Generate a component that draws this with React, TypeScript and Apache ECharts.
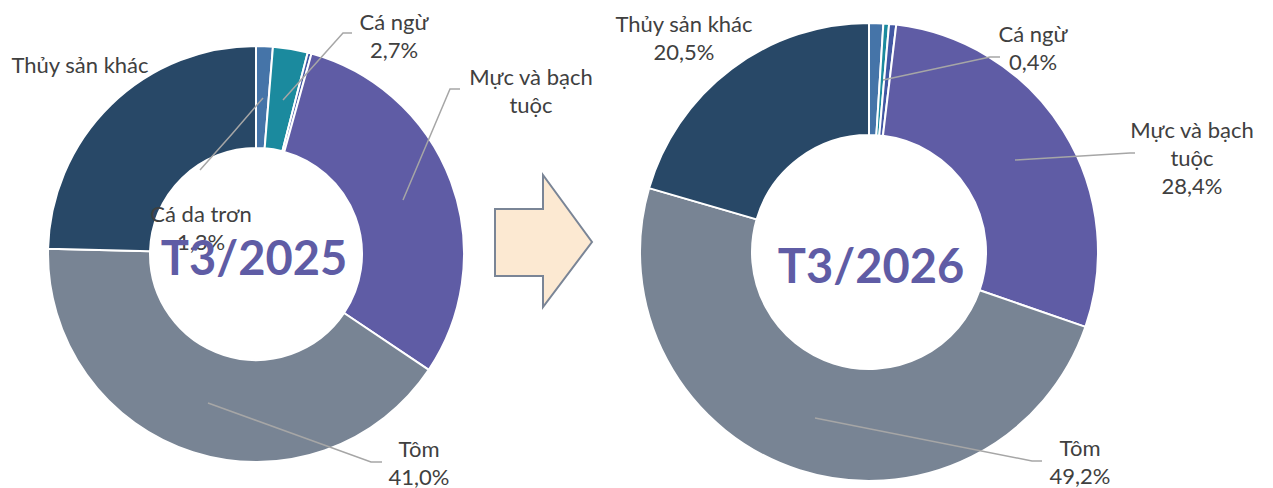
import React, { useEffect, useRef } from "react";
import * as echarts from "echarts";

// ---- data ----
const categories = ["Cá da trơn", "Cá ngừ", "Khác", "Mực và bạch tuộc", "Tôm", "Thủy sản khác"];
const labelNames = ["Cá da trơn", "Cá ngừ", "Khác", "Mực và bạch\ntuộc", "Tôm", "Thủy sản khác"];
const values2025 = [1.3, 2.7, 0.3, 30.1, 41.0, 24.6];
const values2026 = [1.0, 0.4, 0.5, 28.4, 49.2, 20.5];
const showPct2025 = [true, true, false, false, true, false];
const showPct2026 = [false, true, false, true, true, true];
const periods = ["T3/2025", "T3/2026"];

// ---- styles / layout ----
const colors = ["#4574a8", "#1b8a9e", "#4257a3", "#5f5ca5", "#788494", "#284867"];
const labelColor = "#404040";
const lineColor = "#a6a6a6";

type Lay = { x: number; y: number; line: number[][] | null } | null;
const layout2025: Lay[] = [
  { x: 201, y: 227, line: [[263, 98], [232, 134], [200, 170]] },
  { x: 394, y: 35, line: [[283, 100], [343, 33], [352, 33]] },
  null,
  { x: 531, y: 90, line: [[403, 200], [450, 89], [460, 89]] },
  { x: 419, y: 462, line: [[208, 403], [371, 462], [382, 462]] },
  { x: 80, y: 64, line: null },
];
const layout2026: Lay[] = [
  null,
  { x: 1033, y: 47, line: [[883, 80], [990, 57], [1000, 57]] },
  null,
  { x: 1192, y: 157, line: [[1015, 160], [1130, 153], [1135, 153]] },
  { x: 1080, y: 461, line: [[815, 418], [1032, 461], [1042, 461]] },
  { x: 684, y: 37, line: null },
];

const fmt = (v: number) => v.toFixed(1).replace(".", ",") + "%";

function ringSeries(values: number[], center: number[], radius: number[]) {
  return {
    type: "pie",
    center,
    radius,
    startAngle: 90,
    clockwise: true,
    z: 2,
    itemStyle: { borderColor: "#ffffff", borderWidth: 2 },
    label: { show: false },
    labelLine: { show: false },
    emphasis: { disabled: true },
    silent: true,
    data: values.map((v, i) => ({
      name: categories[i],
      value: v,
      itemStyle: { color: colors[i] },
    })),
  };
}

function labelSeries(values: number[], showPct: boolean[], lay: Lay[], center: number[], radius: number[]) {
  return {
    type: "pie",
    center,
    radius,
    startAngle: 90,
    clockwise: true,
    z: 5,
    silent: true,
    avoidLabelOverlap: false,
    itemStyle: { color: "rgba(0,0,0,0)", borderWidth: 0 },
    label: {
      show: true,
      position: "outside",
      color: labelColor,
      fontFamily: "Lato",
      fontSize: 22,
      lineHeight: 28,
      align: "center",
    },
    labelLine: { show: true, lineStyle: { color: lineColor, width: 1.5 } },
    emphasis: { disabled: true },
    data: values.map((v, i) => ({
      name: categories[i],
      value: v,
      itemStyle: { color: "rgba(0,0,0,0)" },
      label: {
        show: lay[i] != null,
        formatter: showPct[i] ? labelNames[i] + "\n" + fmt(v) : labelNames[i],
      },
      labelLine: { show: lay[i] != null && lay[i]!.line != null },
    })),
    labelLayout: (params: any) => {
      const l = lay[params.dataIndex];
      if (!l) return {};
      const out: any = { x: l.x, y: l.y, align: "center", verticalAlign: "middle" };
      if (l.line) out.labelLinePoints = l.line.map((p) => [p[0], p[1]]);
      return out;
    },
  };
}

export default function App() {
  const ref = useRef<HTMLDivElement>(null);
  useEffect(() => {
    if (!ref.current) return;
    const chart = echarts.init(ref.current, undefined, { renderer: "svg" });
    const c1 = [256, 254];
    const r1 = [106, 208];
    const c2 = [869, 252];
    const r2 = [117, 229];
    chart.setOption({
      animation: false,
      backgroundColor: "#ffffff",
      series: [
        ringSeries(values2025, c1, r1),
        ringSeries(values2026, c2, r2),
        labelSeries(values2025, showPct2025, layout2025, c1, r1),
        labelSeries(values2026, showPct2026, layout2026, c2, r2),
      ],
      graphic: [
        {
          type: "polygon",
          shape: {
            points: [
              [495, 209],
              [543, 209],
              [543, 175],
              [592, 242],
              [543, 307],
              [543, 276],
              [495, 276],
            ],
          },
          style: { fill: "#fce9d2", stroke: "#7a8596", lineWidth: 2 },
        },
        {
          type: "text",
          x: 254,
          y: 257,
          z: 100,
          style: {
            text: periods[0],
            fill: "#5f5ca5",
            font: "bold 47px Lato",
            align: "center",
            verticalAlign: "middle",
          },
        },
        {
          type: "text",
          x: 871,
          y: 265,
          z: 100,
          style: {
            text: periods[1],
            fill: "#5f5ca5",
            font: "bold 47px Lato",
            align: "center",
            verticalAlign: "middle",
          },
        },
      ],
    });
    return () => chart.dispose();
  }, []);
  return (
    <div
      ref={ref}
      style={{ position: "absolute", left: 0, top: 0, width: 1273, height: 488 }}
    />
  );
}
